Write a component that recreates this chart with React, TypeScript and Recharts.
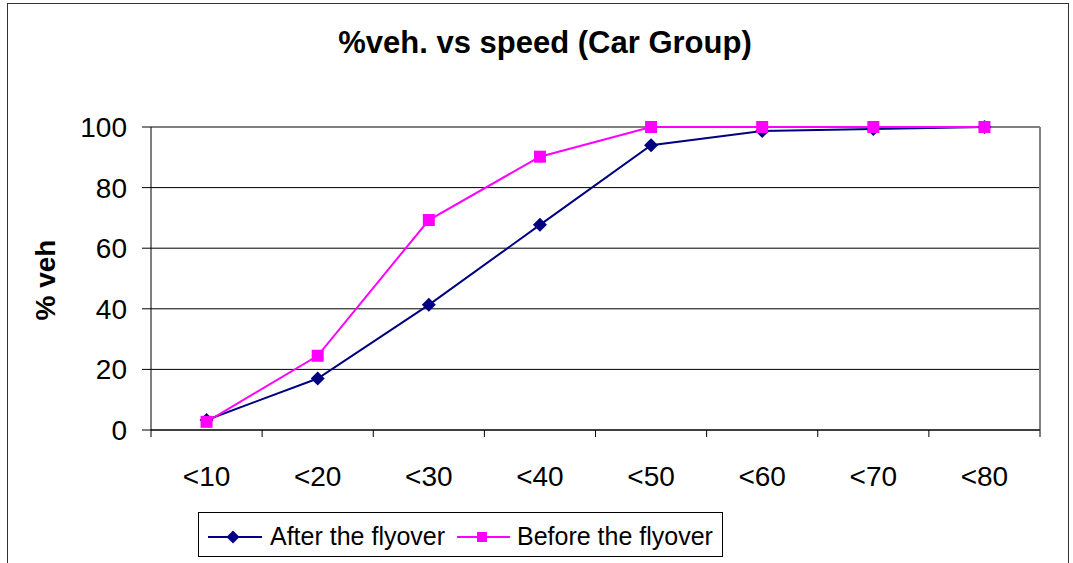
import React from 'react';
import { LineChart, Line, XAxis, YAxis, CartesianGrid, ReferenceLine } from 'recharts';

const categories = ['<10', '<20', '<30', '<40', '<50', '<60', '<70', '<80'];
const afterFlyover = [3.3, 17.0, 41.3, 67.7, 94.0, 98.7, 99.3, 100];
const beforeFlyover = [2.7, 24.5, 69.3, 90.2, 100, 100, 100, 100];
const yTicks = [0, 20, 40, 60, 80, 100];
const seriesNames = ['After the flyover', 'Before the flyover'];
const seriesColors = ['#000080', '#FF00FF'];

const W = 1073, H = 563;
const plotLeft = 151, plotRight = 1040, plotTop = 127, plotBottom = 430;
const yAxisWidth = 60, xAxisHeight = 50;
const band = (plotRight - plotLeft) / categories.length;
const font = '"Liberation Sans", Arial, sans-serif';

const data = categories.map((cat, i) => ({
  x: i + 0.5,
  cat,
  after: afterFlyover[i],
  before: beforeFlyover[i],
}));

// tick marks sit on category edges, labels in the middle of each band
const edgeTicks = [...categories.map((_, i) => i), categories.length];

interface TickProps { x?: number; y?: number; payload?: { value: number } }

const CatTick = ({ x = 0, y = 0, payload }: TickProps) => {
  const idx = payload ? payload.value : -1;
  if (idx < 0 || idx >= categories.length) return <g />;
  return (
    <text x={x + band / 2} y={y + 49} textAnchor="middle" fontSize={28} fill="#000" fontFamily={font}>
      {categories[idx]}
    </text>
  );
};

interface DotProps { cx?: number; cy?: number }

const Diamond = ({ cx, cy }: DotProps) => {
  if (cx == null || cy == null) return <g />;
  const r = 7;
  return <polygon points={`${cx},${cy - r} ${cx + r},${cy} ${cx},${cy + r} ${cx - r},${cy}`} fill="#000080" />;
};

const Square = ({ cx, cy }: DotProps) => {
  if (cx == null || cy == null) return <g />;
  return <rect x={cx - 6} y={cy - 6} width={12} height={12} fill="#FF00FF" />;
};

const LegendBox = () => (
  <div style={{
    position: 'absolute', left: 198, top: 512, width: 525, height: 45,
    border: '1px solid #000', boxSizing: 'border-box', background: '#fff',
  }}>
    <svg width={525} height={45} style={{ position: 'absolute', left: -1, top: -1 }}>
      <line x1={10} y1={25} x2={64} y2={25} stroke={seriesColors[0]} strokeWidth={2} />
      <polygon points="35,18.5 41.5,25 35,31.5 28.5,25" fill={seriesColors[0]} />
      <text x={72} y={33} fontSize={25} fontFamily={font} fill="#000">{seriesNames[0]}</text>
      <line x1={259} y1={25} x2={312} y2={25} stroke={seriesColors[1]} strokeWidth={2} />
      <rect x={279} y={20} width={10} height={10} fill={seriesColors[1]} />
      <text x={319} y={33} fontSize={25} fontFamily={font} fill="#000">{seriesNames[1]}</text>
    </svg>
  </div>
);

export default function App() {
  return (
    <div style={{ position: 'absolute', left: 0, top: 0, width: W, height: H, overflow: 'hidden', background: '#fff', fontFamily: font }}>
      <div style={{
        position: 'absolute', left: 7, top: 3, width: 1062, height: 620,
        border: '1.5px solid #333', boxSizing: 'border-box',
      }} />
      <svg width={W} height={H} style={{ position: 'absolute', left: 0, top: 0 }}>
        <text x={545} y={53} textAnchor="middle" fontSize={31} fontWeight="bold" fontFamily={font} fill="#000">
          %veh. vs speed (Car Group)
        </text>
        <text
          transform="translate(55, 280) rotate(-90)"
          textAnchor="middle"
          fontSize={28}
          fontWeight="bold"
          fontFamily={font}
          fill="#000"
        >
          % veh
        </text>
      </svg>
      <div style={{ position: 'absolute', left: 0, top: 0 }}>
        <LineChart
          width={W}
          height={H}
          data={data}
          margin={{ top: plotTop, right: W - plotRight, bottom: H - plotBottom - xAxisHeight, left: plotLeft - yAxisWidth }}
        >
          <CartesianGrid vertical={false} stroke="#000" strokeWidth={1} />
          <XAxis
            type="number"
            dataKey="x"
            domain={[0, categories.length]}
            ticks={edgeTicks}
            interval={0}
            height={xAxisHeight}
            tickSize={7}
            tickMargin={0}
            tick={<CatTick />}
            axisLine={{ stroke: '#000' }}
            tickLine={{ stroke: '#000' }}
          />
          <YAxis
            type="number"
            domain={[0, 100]}
            ticks={yTicks}
            width={yAxisWidth}
            tickSize={9}
            tickMargin={15}
            tick={{ fontSize: 28, fill: '#000', fontFamily: font }}
            axisLine={{ stroke: '#000' }}
            tickLine={{ stroke: '#000' }}
          />
          <ReferenceLine y={100} stroke="#808080" strokeWidth={2} />
          <ReferenceLine x={categories.length} stroke="#808080" strokeWidth={2} />
          <Line
            dataKey="after"
            name={seriesNames[0]}
            stroke={seriesColors[0]}
            strokeWidth={2}
            dot={<Diamond />}
            isAnimationActive={false}
          />
          <Line
            dataKey="before"
            name={seriesNames[1]}
            stroke={seriesColors[1]}
            strokeWidth={2}
            dot={<Square />}
            isAnimationActive={false}
          />
        </LineChart>
      </div>
      <LegendBox />
    </div>
  );
}
